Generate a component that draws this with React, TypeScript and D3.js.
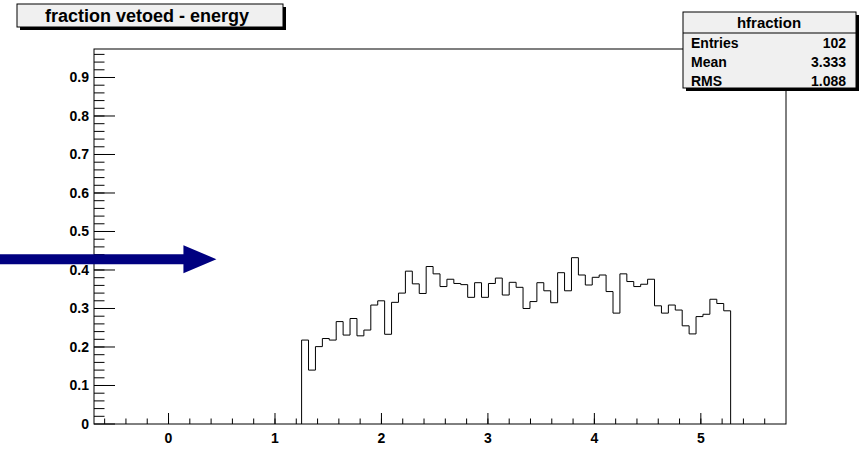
import React from 'react';
import * as d3 from 'd3';

// histogram hfraction: 100 bins on [-0.7, 5.8], filled bins start at bin 30
const nBins = 100;
const xLow = -0.7;
const xHigh = 5.8;
const firstBin = 30;
const fractions = [
  0.218, 0.140, 0.201, 0.222, 0.218, 0.266, 0.231, 0.274, 0.229, 0.244,
  0.309, 0.320, 0.233, 0.316, 0.340, 0.397, 0.364, 0.339, 0.409, 0.390,
  0.357, 0.376, 0.365, 0.362, 0.329, 0.367, 0.329, 0.365, 0.379, 0.335,
  0.368, 0.355, 0.300, 0.318, 0.367, 0.346, 0.315, 0.393, 0.346, 0.432,
  0.387, 0.361, 0.381, 0.387, 0.344, 0.288, 0.390, 0.370, 0.357, 0.363,
  0.376, 0.307, 0.288, 0.309, 0.296, 0.255, 0.234, 0.279, 0.285, 0.324,
  0.313, 0.294,
];
const xMajor = [0, 1, 2, 3, 4, 5];
const yMajor = [0, 0.1, 0.2, 0.3, 0.4, 0.5, 0.6, 0.7, 0.8, 0.9];
const yLabels = ['0', '0.1', '0.2', '0.3', '0.4', '0.5', '0.6', '0.7', '0.8', '0.9'];
const yTop = 0.974;

const titleText = 'fraction vetoed - energy';
const statsName = 'hfraction';
const statsRows = [
  ['Entries', '102'],
  ['Mean', '3.333'],
  ['RMS', '1.088'],
];
// arrow annotation, in data coordinates
const arrowY = 0.428;
const arrowTip = 0.45;

const W = 864;
const H = 454;
const font = '"Liberation Sans", Arial, Helvetica, sans-serif';

export default function App() {
  const left = 94, right = 786, top = 49, bottom = 424;
  const x = d3.scaleLinear().domain([xLow, xHigh]).range([left, right]);
  const y = d3.scaleLinear().domain([0, yTop]).range([bottom, top]);
  const binW = (xHigh - xLow) / nBins;

  // step outline of the histogram
  const pts: [number, number][] = [];
  const e0 = xLow + firstBin * binW;
  pts.push([x(e0), y(0)]);
  fractions.forEach((v, i) => {
    const a = xLow + (firstBin + i) * binW;
    pts.push([x(a), y(v)]);
    pts.push([x(a + binW), y(v)]);
  });
  pts.push([x(xLow + (firstBin + fractions.length) * binW), y(0)]);
  const histPath = d3.line()(pts);

  const xMinor = d3.range(-3, 30).map((k) => k * 0.2).filter((v) => v > xLow + 1e-6 && v < xHigh - 1e-6);
  const yMinor = d3.range(1, 49).map((k) => k * 0.02).filter((v) => v < yTop);

  const xTickLen = 11, yTickLen = 21;

  const ay = y(arrowY);
  const tipX = x(arrowTip);
  const headLen = 33, headHalf = 14, shaftHalf = 5;

  return (
    <svg width={W} height={H} style={{ position: 'absolute', left: 0, top: 0, background: '#fff' }}
      fontFamily={font} fontWeight="bold">
      <rect x={0} y={0} width={W} height={H} fill="#fff" />
      {/* frame */}
      <rect x={left} y={top} width={right - left} height={bottom - top} fill="none" stroke="#000" strokeWidth={1} />
      {/* x ticks */}
      {xMinor.map((v, i) => (
        <line key={'xm' + i} x1={x(v)} x2={x(v)} y1={bottom} y2={bottom - xTickLen / 2} stroke="#000" />
      ))}
      {xMajor.map((v) => (
        <g key={'xM' + v}>
          <line x1={x(v)} x2={x(v)} y1={bottom} y2={bottom - xTickLen} stroke="#000" />
          <text x={x(v)} y={bottom + 19} textAnchor="middle" fontSize={14}>{v}</text>
        </g>
      ))}
      {/* y ticks */}
      {yMinor.map((v, i) => (
        <line key={'ym' + i} x1={left} x2={left + yTickLen / 2} y1={y(v)} y2={y(v)} stroke="#000" />
      ))}
      {yMajor.map((v, i) => (
        <g key={'yM' + i}>
          <line x1={left} x2={left + yTickLen} y1={y(v)} y2={y(v)} stroke="#000" />
          <text x={left - 5} y={y(v) + 5} textAnchor="end" fontSize={14}>{yLabels[i]}</text>
        </g>
      ))}
      {/* histogram */}
      <path d={histPath || ''} fill="none" stroke="#000" strokeWidth={1} />
      {/* arrow */}
      <path
        d={`M0,${ay - shaftHalf}H${tipX - headLen}V${ay - headHalf}L${tipX},${ay}L${tipX - headLen},${ay + headHalf}V${ay + shaftHalf}H0Z`}
        fill="#000080" />
      {/* title box */}
      <rect x={20} y={7} width={266} height={23} fill="#000" />
      <rect x={17} y={4} width={266} height={23} fill="#f0f0f0" stroke="#000" />
      <text x={147} y={22} textAnchor="middle" fontSize={18}>{titleText}</text>
      {/* stats box */}
      <rect x={686} y={15} width={173} height={76} fill="#000" />
      <rect x={683} y={12} width={173} height={76} fill="#f0f0f0" stroke="#000" />
      <line x1={683} x2={856} y1={33} y2={33} stroke="#000" />
      <text x={769} y={28} textAnchor="middle" fontSize={15}>{statsName}</text>
      {statsRows.map((r, i) => (
        <g key={r[0]}>
          <text x={691} y={48 + i * 19} fontSize={14}>{r[0]}</text>
          <text x={846} y={48 + i * 19} textAnchor="end" fontSize={14}>{r[1]}</text>
        </g>
      ))}
    </svg>
  );
}
